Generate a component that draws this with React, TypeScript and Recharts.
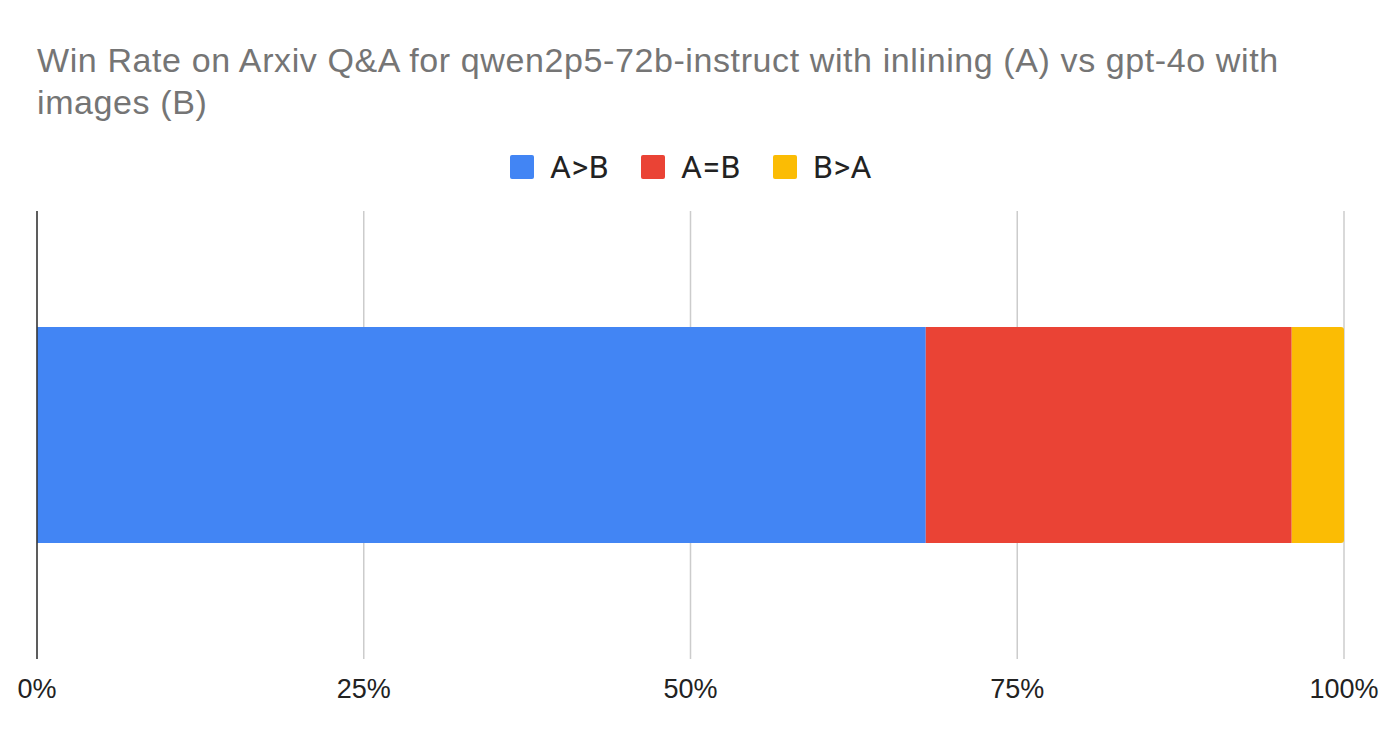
import React from 'react';
import { BarChart, Bar, XAxis, YAxis, CartesianGrid, ReferenceLine } from 'recharts';

const categories = ['Arxiv Q&A'];
const seriesNames = ['A>B', 'A=B', 'B>A'];
const seriesValues = [0.68, 0.28, 0.04];
const seriesColors = ['#4285F4', '#EA4335', '#FBBC04'];
const xTicks = [0, 0.25, 0.5, 0.75, 1];
const xTickLabels = ['0%', '25%', '50%', '75%', '100%'];

const data = categories.map(name => {
  const row: Record<string, string | number> = { name };
  seriesNames.forEach((s, i) => {
    row[s] = seriesValues[i];
  });
  return row;
});

const W = 1382;
const H = 742;

export default function App() {
  return (
    <div style={{ position: 'absolute', left: 0, top: 0, width: W, height: H, background: '#fff' }}>
      <div
        style={{
          position: 'absolute',
          left: 37,
          top: 39,
          width: 1300,
          fontFamily: '"Liberation Sans", Arial, sans-serif',
          fontSize: 34,
          letterSpacing: 0.6,
          lineHeight: '42px',
          color: '#757575',
        }}
      >
        Win Rate on Arxiv Q&amp;A for qwen2p5-72b-instruct with inlining (A) vs gpt-4o with images (B)
      </div>
      <div
        style={{
          position: 'absolute',
          left: 0,
          top: 149,
          width: W,
          display: 'flex',
          justifyContent: 'center',
          fontFamily: 'Roboto, sans-serif',
          fontSize: 32,
          letterSpacing: 0.5,
          color: '#222',
        }}
      >
        {seriesNames.map((s, i) => (
          <div key={s} style={{ display: 'flex', alignItems: 'center', marginRight: i < seriesNames.length - 1 ? 32 : 0 }}>
            <span
              style={{
                display: 'inline-block',
                width: 24,
                height: 24,
                borderRadius: 2,
                background: seriesColors[i],
                marginRight: 16,
              }}
            />
            <span style={{ lineHeight: '36px' }}>{s}</span>
          </div>
        ))}
      </div>
      <BarChart
        width={W}
        height={H}
        data={data}
        layout="vertical"
        margin={{ top: 211, right: 38, bottom: 43, left: 37 }}
        style={{ position: 'absolute', left: 0, top: 0 }}
      >
        <CartesianGrid horizontal={false} stroke="#cccccc" strokeWidth={1.5} />
        <XAxis
          type="number"
          domain={[0, 1]}
          ticks={xTicks}
          tickFormatter={(v: number) => xTickLabels[xTicks.indexOf(v)]}
          axisLine={false}
          tickLine={false}
          height={40}
          tickSize={0}
          tickMargin={20}
          interval={0}
          tick={{ fill: '#222', fontSize: 27, fontFamily: '"Liberation Sans", Arial, sans-serif' }}
        />
        <YAxis type="category" dataKey="name" width={0} tick={false} tickLine={false} axisLine={false} />
        {seriesNames.map((s, i) => (
          <Bar
            key={s}
            dataKey={s}
            stackId="a"
            fill={seriesColors[i]}
            barSize={216}
            isAnimationActive={false}
            radius={i === seriesNames.length - 1 ? [0, 3, 3, 0] : 0}
          />
        ))}
        <ReferenceLine x={0} stroke="#333" strokeWidth={1.5} />
      </BarChart>
    </div>
  );
}
